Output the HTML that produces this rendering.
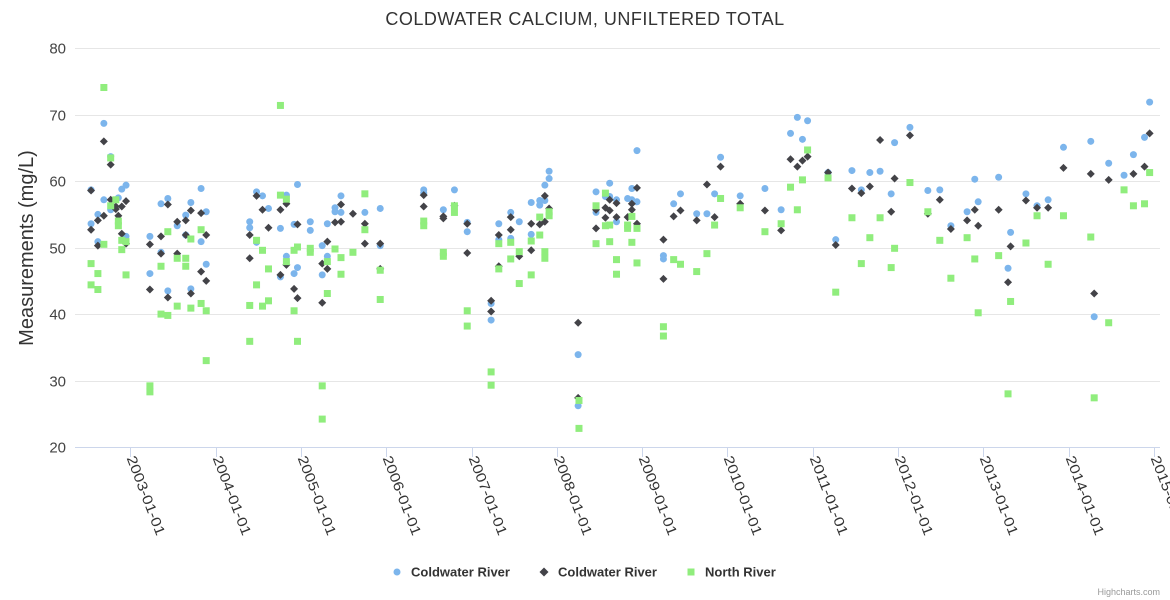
<!DOCTYPE html>
<html><head><meta charset="utf-8"><style>
html,body{margin:0;padding:0;background:#fff;}
svg{display:block;font-family:"Liberation Sans",sans-serif;}
</style></head><body>
<svg id="chart" width="1170" height="600" viewBox="0 0 1170 600" xmlns="http://www.w3.org/2000/svg">
<rect x="0" y="0" width="1170" height="600" fill="#fff"/>
<text x="585" y="25" text-anchor="middle" font-size="18" fill="#333" letter-spacing="0.5">COLDWATER CALCIUM, UNFILTERED TOTAL</text>
<g id="grid"></g>
<g id="yLabels"></g>
<text transform="translate(33,248) rotate(-90)" text-anchor="middle" font-size="20" fill="#333">Measurements (mg/L)</text>
<line x1="75" y1="447.5" x2="1160" y2="447.5" stroke="#ccd6eb" stroke-width="1"/>
<g id="xTicks"></g>
<g id="s1"></g>
<g id="s2"></g>
<g id="s3"></g>
<g>
  <g>
    <circle cx="397" cy="572" r="3.5" fill="#7cb5ec"/>
    <text x="411" y="576.5" font-size="13" font-weight="bold" fill="#333">Coldwater River</text>
  </g>
  <g>
    <path d="M544 567.5 L548.5 572 L544 576.5 L539.5 572 Z" fill="#434348"/>
    <text x="558" y="576.5" font-size="13" font-weight="bold" fill="#333">Coldwater River</text>
  </g>
  <g>
    <rect x="687.5" y="568.5" width="7" height="7" fill="#90ed7d"/>
    <text x="705" y="576.5" font-size="13" font-weight="bold" fill="#333">North River</text>
  </g>
</g>
<text x="1160" y="595" text-anchor="end" font-size="9" fill="#999">Highcharts.com</text>
</svg>
<script>
const yTicks=[20,30,40,50,60,70,80];
const xTickYears=[2003,2004,2005,2006,2007,2008,2009,2010,2011,2012,2013,2014,2015];
const xTickLabels=["2003-01-01","2004-01-01","2005-01-01","2006-01-01","2007-01-01","2008-01-01","2009-01-01","2010-01-01","2011-01-01","2012-01-01","2013-01-01","2014-01-01","2015-01-01"];

const blueYears=[2002.69,2002.54,2002.69,2002.62,2002.54,2002.62,2002.77,2002.90,2002.95,2002.86,2002.77,2002.95,2003.23,2003.23,2003.36,2003.44,2003.36,2003.44,2003.55,2003.65,2003.71,2003.83,2003.89,2003.83,2003.65,2003.89,2003.71,2004.40,2004.40,2004.48,2004.55,2004.62,2004.48,2004.76,2004.83,2004.96,2004.92,2004.83,2004.76,2004.92,2004.96,2005.11,2005.11,2005.25,2005.25,2005.31,2005.31,2005.40,2005.40,2005.47,2005.47,2005.75,2005.93,2005.93,
2006.44,2006.44,2006.67,2006.80,2006.95,2006.95,2007.23,2007.23,2007.32,2007.32,2007.46,2007.46,2007.56,2007.70,2007.70,2007.80,2007.80,2007.86,2007.86,2007.91,2007.91,2008.25,2008.25,2008.46,2008.46,2008.57,2008.62,2008.62,2008.70,2008.70,2008.83,2008.88,2008.88,2008.94,2008.94,2009.25,2009.25,2009.37,2009.45,2009.64,2009.76,2009.85,2009.92,2010.15,2010.44,
2010.63,2010.74,2010.82,2010.88,2010.94,2011.18,2011.27,2011.46,2011.57,2011.67,2011.79,2011.92,2011.96,2012.14,2012.35,2012.49,2012.62,2012.81,2012.90,2012.94,2013.18,2013.29,2013.32,2013.50,2013.63,2013.76,2013.94,2014.26,2014.30,2014.47,2014.65,2014.76,2014.89,2014.95];
const blueValues=[68.7,58.7,57.2,55.0,53.6,50.9,63.7,58.8,59.4,57.5,55.7,51.7,51.7,46.1,56.6,57.4,49.3,43.5,53.3,54.9,56.8,58.9,55.4,50.9,51.9,47.5,43.8,53.9,53.0,58.4,57.8,55.9,50.8,52.9,57.9,59.5,53.5,48.7,45.6,46.1,47.0,53.9,52.6,50.3,45.9,53.6,48.7,56.0,55.4,57.8,55.3,55.3,55.9,50.3,
58.7,58.2,55.7,58.7,53.8,52.4,41.6,39.1,53.6,51.2,55.3,51.4,53.9,56.8,52.0,57.1,56.4,57.1,59.4,60.4,61.5,33.9,26.2,58.4,55.3,57.7,59.7,57.7,57.2,53.9,57.4,58.9,57.2,56.9,64.6,48.8,48.3,56.6,58.1,55.1,55.1,58.1,63.6,57.8,58.9,
55.7,67.2,69.6,66.3,69.1,61.3,51.2,61.6,58.7,61.3,61.5,58.1,65.8,68.1,58.6,58.7,53.3,55.4,60.3,56.9,60.6,46.9,52.3,58.1,56.3,57.2,65.1,66.0,39.6,62.7,60.9,64.0,66.6,71.9];

const darkYears=[2002.54,2002.69,2002.77,2002.77,2002.62,2002.54,2002.62,2002.69,2002.83,2002.83,2002.86,2002.90,2002.95,2002.90,2002.95,2003.23,2003.23,2003.36,2003.36,2003.44,2003.44,2003.55,2003.55,2003.65,2003.65,2003.71,2003.71,2003.83,2003.89,2003.83,2003.89,2004.40,2004.40,2004.48,2004.55,2004.62,2004.76,2004.83,2004.83,2004.76,2004.92,2004.96,2004.96,2005.25,2005.25,2005.31,2005.31,2005.40,2005.47,2005.47,2005.61,2005.75,2005.75,2005.93,2005.93,
2006.44,2006.44,2006.67,2006.67,2006.80,2006.95,2006.95,2007.23,2007.23,2007.32,2007.32,2007.46,2007.46,2007.56,2007.70,2007.70,2007.80,2007.86,2007.86,2007.91,2008.25,2008.25,2008.46,2008.46,2008.57,2008.57,2008.62,2008.62,2008.70,2008.70,2008.83,2008.88,2008.88,2008.94,2008.94,2009.25,2009.25,2009.37,2009.45,2009.64,2009.76,2009.85,2009.92,2010.15,2010.44,
2010.63,2010.74,2010.82,2010.88,2010.94,2011.18,2011.27,2011.46,2011.57,2011.67,2011.79,2011.92,2011.96,2012.14,2012.35,2012.49,2012.62,2012.81,2012.90,2012.94,2013.18,2013.29,2013.32,2013.50,2013.63,2013.76,2013.94,2014.26,2014.30,2014.47,2014.76,2014.89,2014.95];
const darkValues=[58.6,66.0,62.5,57.2,54.1,52.7,50.3,54.8,56.2,55.8,54.8,56.2,57.0,52.1,50.6,50.5,43.7,51.7,49.1,56.5,42.5,53.9,49.1,54.1,51.9,55.6,43.1,55.2,51.9,46.4,45.0,51.9,48.4,57.8,55.7,53.0,55.7,56.6,47.4,45.9,43.8,42.4,53.5,41.7,47.6,50.9,46.8,53.8,56.5,53.9,55.1,53.6,50.6,50.6,46.8,
57.9,56.2,54.7,54.4,56.3,53.6,49.2,42.0,40.4,51.9,47.2,54.6,52.7,48.7,53.6,49.6,53.5,53.9,57.8,55.9,38.7,27.4,55.7,52.9,56.0,54.5,57.2,55.6,56.7,54.6,54.6,56.6,55.7,59.0,53.6,51.2,45.3,54.7,55.6,54.1,59.5,54.6,62.2,56.6,55.6,
52.6,63.3,62.2,63.1,63.7,61.3,50.4,58.9,58.2,59.2,66.2,55.4,60.4,66.9,55.1,57.2,52.8,54.1,55.7,53.3,55.7,44.8,50.2,57.1,56.0,56.0,62.0,61.1,43.1,60.2,61.1,62.2,67.2];

const greenYears=[2002.69,2002.77,2002.83,2002.77,2002.86,2002.86,2002.69,2002.90,2002.95,2002.90,2002.54,2002.62,2002.95,2002.54,2002.62,2003.23,2003.23,2003.36,2003.44,2003.55,2003.65,2003.65,2003.71,2003.83,2003.36,2003.44,2003.55,2003.71,2003.83,2003.89,2003.89,2004.76,2004.48,2004.55,2004.62,2004.40,2004.48,2004.55,2004.62,2004.40,2004.76,2004.83,2004.92,2004.96,2004.83,2004.92,2004.96,2005.11,2005.11,2005.25,2005.25,2005.31,2005.31,2005.40,2005.47,2005.47,2005.61,2005.75,2005.75,2005.93,2005.93,
2006.44,2006.44,2006.67,2006.67,2006.80,2006.80,2006.95,2006.95,2007.23,2007.23,2007.32,2007.32,2007.46,2007.46,2007.56,2007.56,2007.70,2007.70,2007.80,2007.80,2007.86,2007.86,2007.91,2007.91,2008.26,2008.26,2008.46,2008.46,2008.57,2008.57,2008.62,2008.62,2008.70,2008.70,2008.83,2008.83,2008.88,2008.88,2008.94,2008.94,2009.25,2009.25,2009.37,2009.45,2009.64,2009.76,2009.85,2009.92,2010.15,2010.44,
2010.63,2010.74,2010.82,2010.88,2010.94,2011.18,2011.27,2011.46,2011.57,2011.67,2011.79,2011.92,2011.96,2012.14,2012.35,2012.49,2012.62,2012.81,2012.90,2012.94,2013.18,2013.29,2013.32,2013.50,2013.63,2013.76,2013.94,2014.26,2014.30,2014.47,2014.65,2014.76,2014.89,2014.95];
const greenValues=[74.1,63.5,57.2,56.3,54.0,53.3,50.5,51.1,50.9,49.7,47.6,46.1,45.9,44.4,43.7,29.2,28.3,47.2,52.4,48.4,48.4,47.2,51.3,52.7,40.0,39.8,41.2,40.9,41.6,40.5,33.0,71.4,51.1,49.6,46.8,41.3,44.4,41.2,42.0,35.9,57.9,57.3,49.6,50.1,47.9,40.5,35.9,49.9,49.3,29.2,24.2,47.9,43.1,49.8,48.5,46.0,49.3,58.1,52.7,46.6,42.2,
54.0,53.3,49.3,48.7,56.3,55.3,40.5,38.2,31.3,29.3,50.6,46.8,50.8,48.3,49.4,44.6,51.0,45.9,54.6,51.9,49.4,48.4,55.4,54.8,27.0,22.8,56.3,50.6,58.2,53.3,53.4,50.9,48.2,46.0,53.4,52.9,54.7,50.8,52.9,47.7,38.1,36.7,48.2,47.5,46.4,49.1,53.4,57.4,56.0,52.4,
53.6,59.1,55.7,60.2,64.7,60.5,43.3,54.5,47.6,51.5,54.5,47.0,49.9,59.8,55.4,51.1,45.4,51.5,48.3,40.2,48.8,28.0,41.9,50.7,54.8,47.5,54.8,51.6,27.4,38.7,58.7,56.3,56.6,61.3];

const NS="http://www.w3.org/2000/svg";
function xScale(yr){return 130.3+(yr-2003)*85.3;}
function yScale(v){return 447+(20-v)*6.645;}
function mk(tag,attrs,parent){const e=document.createElementNS(NS,tag);for(const k in attrs)e.setAttribute(k,attrs[k]);parent.appendChild(e);return e;}

const grid=document.getElementById('grid'),yl=document.getElementById('yLabels');
yTicks.forEach(t=>{
  const y=Math.round(yScale(t))+0.5;
  if(t>20){const g=mk('line',{x1:75,x2:1160,y1:y,y2:y,stroke:'#e6e6e6','stroke-width':1},grid);
  
  }
  const l=mk('text',{x:66,y:y+5,'text-anchor':'end','font-size':15,fill:'#444'},yl);
  
  
  l.textContent=t;
});
const xt=document.getElementById('xTicks');
xTickYears.forEach((yr,i)=>{
  const x=Math.round(xScale(yr))+0.5;
  const tk=mk('line',{x1:x,x2:x,y1:447,y2:457,stroke:'#ccd6eb'},xt);
  
  
  const l=mk('text',{transform:`translate(${x-4},458) rotate(69)`,'font-size':14,fill:'#333',textLength:84,lengthAdjust:'spacingAndGlyphs'},xt);
  
  
  l.textContent=xTickLabels[i];
});
const s1=document.getElementById('s1'),s2=document.getElementById('s2'),s3=document.getElementById('s3');
blueYears.forEach((yr,i)=>{
  const c=mk('circle',{cx:xScale(yr),cy:yScale(blueValues[i]),r:3.5,fill:'#7cb5ec'},s1);
  
  
});
darkYears.forEach((yr,i)=>{
  const x=xScale(yr),y=yScale(darkValues[i]);
  const p=mk('path',{d:`M${x} ${y-4}L${x+4} ${y}L${x} ${y+4}L${x-4} ${y}Z`,fill:'#434348'},s2);
  
  
});
greenYears.forEach((yr,i)=>{
  const r=mk('rect',{x:xScale(yr)-3.5,y:yScale(greenValues[i])-3.5,width:7,height:7,fill:'#90ed7d'},s3);
  
  
});
</script>
</body></html>
